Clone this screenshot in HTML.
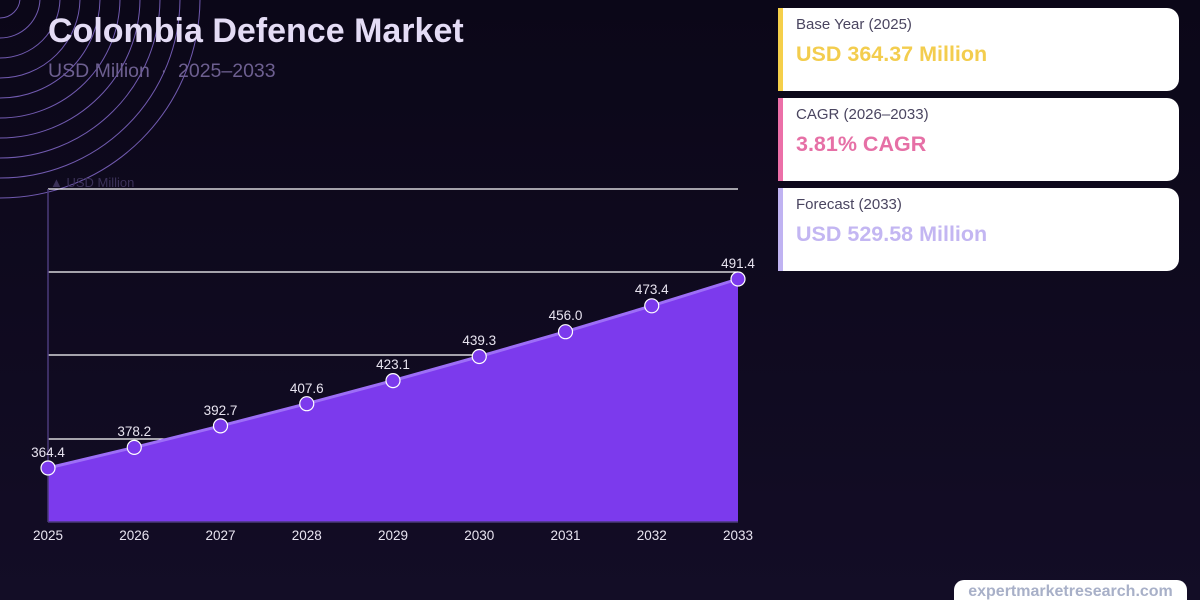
<!DOCTYPE html>
<html><head><meta charset="utf-8"><style>
html,body{margin:0;width:1200px;height:600px;overflow:hidden}
body{background:linear-gradient(180deg,#0b0718 0%,#130d26 100%);font-family:"Liberation Sans",sans-serif;position:relative}
.t{position:absolute;left:48px;top:12px;font-size:34px;font-weight:bold;color:#e4dcf5}
.s{position:absolute;left:48px;top:60px;font-size:19.5px;color:#6d5f90}
.card{position:absolute;left:778px;width:396px;height:83px;background:#fff;border-radius:0 12px 12px 0;border-left:5px solid}
.card .l{position:absolute;left:13px;top:8px;font-size:15px;color:#4a4560}
.card .v{position:absolute;left:13px;top:34px;font-size:21.5px;font-weight:bold}
.foot{position:absolute;left:954px;top:580px;width:233px;height:30px;background:#fff;border-radius:10px;font-size:16px;font-weight:bold;color:#a8b0c8;text-align:center;line-height:24px}
</style></head><body>
<svg width="1200" height="600" style="position:absolute;left:0;top:0">
<g fill="none" stroke="#8b6fd6" stroke-width="1" opacity="0.8">
<circle cx="0" cy="-2" r="20"/><circle cx="0" cy="-2" r="40"/><circle cx="0" cy="-2" r="60"/><circle cx="0" cy="-2" r="80"/><circle cx="0" cy="-2" r="100"/><circle cx="0" cy="-2" r="120"/><circle cx="0" cy="-2" r="140"/><circle cx="0" cy="-2" r="160"/><circle cx="0" cy="-2" r="180"/><circle cx="0" cy="-2" r="200"/>
</g>
<text x="50" y="187" font-size="13" fill="#3b3158" font-family="Liberation Sans">▲ USD Million</text>
<g stroke="#ffffff" stroke-width="1.2">
<line x1="48" y1="189" x2="738" y2="189"/><line x1="48" y1="272" x2="738" y2="272"/><line x1="48" y1="355" x2="738" y2="355"/><line x1="48" y1="439" x2="738" y2="439"/>
</g>
<polygon fill="#7c3aed" points="48,468 134.25,447.4 220.5,425.9 306.75,403.7 393,380.6 479.25,356.5 565.5,331.7 651.75,305.8 738,279 738,522 48,522"/>
<polyline fill="none" stroke="#9d6ef7" stroke-width="3" points="48,468 134.25,447.4 220.5,425.9 306.75,403.7 393,380.6 479.25,356.5 565.5,331.7 651.75,305.8 738,279"/>
<line x1="48" y1="189" x2="48" y2="522" stroke="#4a3a7a" stroke-width="1.5"/>
<line x1="48" y1="522" x2="738" y2="522" stroke="#4a3a7a" stroke-width="1.5"/>
<g fill="#7c3aed" stroke="#fff" stroke-width="1.2">
<circle cx="48" cy="468" r="7"/><circle cx="134.25" cy="447.4" r="7"/><circle cx="220.5" cy="425.9" r="7"/><circle cx="306.75" cy="403.7" r="7"/><circle cx="393" cy="380.6" r="7"/><circle cx="479.25" cy="356.5" r="7"/><circle cx="565.5" cy="331.7" r="7"/><circle cx="651.75" cy="305.8" r="7"/><circle cx="738" cy="279" r="7"/>
</g>
<g font-size="13.5" fill="#e8e4f0" text-anchor="middle" font-family="Liberation Sans">
<text x="48" y="457">364.4</text><text x="134.25" y="436">378.2</text><text x="220.5" y="415">392.7</text><text x="306.75" y="393">407.6</text><text x="393" y="369">423.1</text><text x="479.25" y="345">439.3</text><text x="565.5" y="320">456.0</text><text x="651.75" y="294">473.4</text><text x="738" y="268">491.4</text>
<text x="48" y="540">2025</text><text x="134.25" y="540">2026</text><text x="220.5" y="540">2027</text><text x="306.75" y="540">2028</text><text x="393" y="540">2029</text><text x="479.25" y="540">2030</text><text x="565.5" y="540">2031</text><text x="651.75" y="540">2032</text><text x="738" y="540">2033</text>
</g>
</svg>
<div class="t">Colombia Defence Market</div>
<div class="s">USD Million &nbsp;·&nbsp; 2025–2033</div>
<div class="card" style="top:8px;border-color:#f5cf4a"><div class="l">Base Year (2025)</div><div class="v" style="color:#f3cd4e">USD 364.37 Million</div></div>
<div class="card" style="top:98px;border-color:#ec6fa8"><div class="l">CAGR (2026–2033)</div><div class="v" style="color:#e670a6">3.81% CAGR</div></div>
<div class="card" style="top:188px;border-color:#c0b3f2"><div class="l">Forecast (2033)</div><div class="v" style="color:#c3b6f2">USD 529.58 Million</div></div>
<div class="foot">expertmarketresearch.com</div>
</body></html>
